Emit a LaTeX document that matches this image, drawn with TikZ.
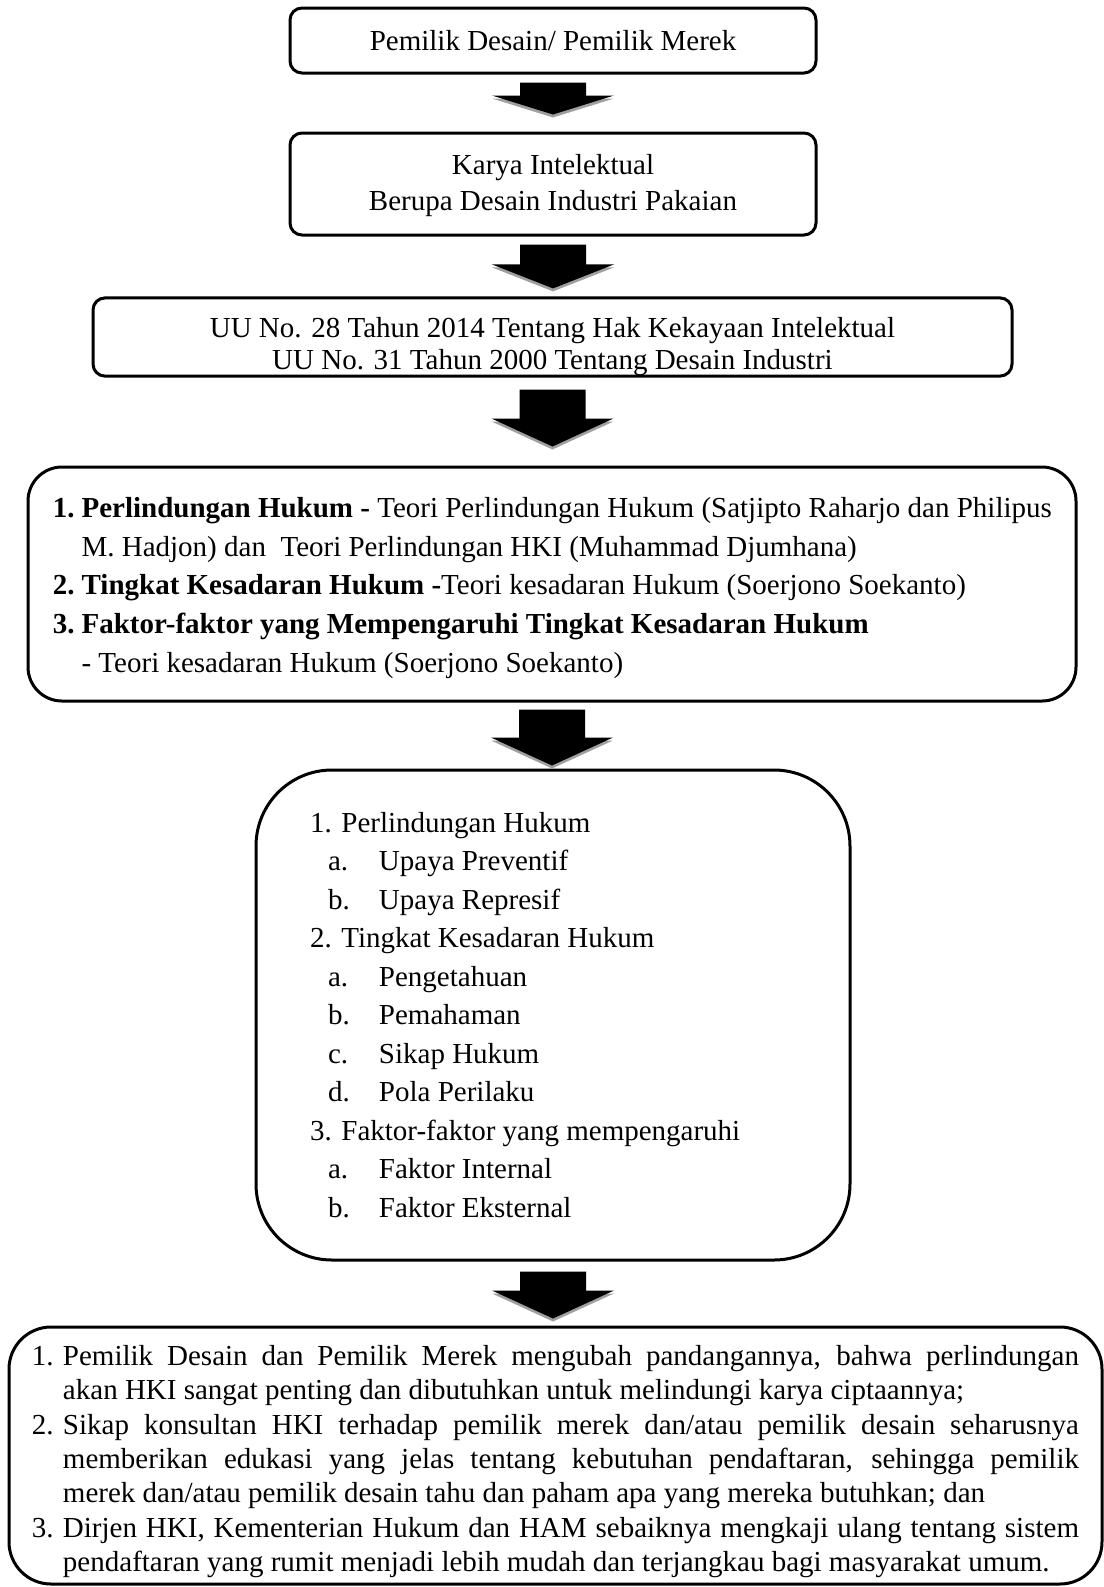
\documentclass[tikz,border=0pt]{standalone}
\usepackage{fontspec}
\setmainfont{Liberation Serif}
\usetikzlibrary{calc}
\definecolor{arrowshadow}{HTML}{A0A0A0}
\tikzset{
  box/.style={draw, line width=1.5pt, align=center, inner sep=0pt, font=\fontsize{14.5}{17}\selectfont},
  listbox/.style={draw, line width=1.5pt, inner sep=0pt},
}
\newcommand\blockarrow[5]{%
 \fill[arrowshadow] let \p1=($(#1.south)+(0,#3)$), \p2=($(#2.north)+(0,-#4)$) in
   ({\x1-30.5pt},{\y2+#5*0.5pt-1.5pt}) -- ({\x1+30.5pt},{\y2+#5*0.5pt-1.5pt}) -- ({\x1},{\y2-1.5pt}) -- cycle;
 \fill[black] let \p1=($(#1.south)+(0,#3)$), \p2=($(#2.north)+(0,-#4)$) in
   ({\x1-16.5pt},{\y1}) -- ({\x1+16.5pt},{\y1}) -- ({\x1+16.5pt},{\y2+#5*0.5pt}) -- ({\x1+30.5pt},{\y2+#5*0.5pt}) -- ({\x1},{\y2}) -- ({\x1-30.5pt},{\y2+#5*0.5pt}) -- ({\x1-16.5pt},{\y2+#5*0.5pt}) -- cycle;
}
\newcommand\lline[1]{\mbox{#1}\\}
\begin{document}
\begin{tikzpicture}[x=0.5pt,y=-0.5pt]
\fill[white] (0,0) rectangle (1104,1587);
\useasboundingbox (0,0) rectangle (1104,1587);

\node[box, rounded corners=6pt, minimum width=263pt, minimum height=32.5pt] (b1) at (553,40.5) {Pemilik Desain/ Pemilik Merek};
\node[listbox, rounded corners=6pt, minimum width=263pt, minimum height=51pt] (b2) at (553,184) {\parbox{250pt}{\fontsize{14.5}{17.6}\selectfont\centering
\vspace*{1.5pt}Karya Intelektual\\Berupa Desain Industri Pakaian\par}};
\node[listbox, rounded corners=6pt, minimum width=459.5pt, minimum height=39pt] (b3) at (552.5,337) {\parbox{450pt}{\fontsize{14.5}{16.3}\selectfont\centering
\vspace*{9.6pt}UU No. 28 Tahun 2014 Tentang Hak Kekayaan Intelektual\\UU No. 31 Tahun 2000 Tentang Desain Industri\par}};

\node[listbox, rounded corners=17pt, minimum width=524pt, minimum height=117pt] (b4) at (552,584) {\parbox{499pt}{\fontsize{14.5}{19.3}\selectfont\raggedright
\vspace*{4pt}%
\lline{\makebox[14.3pt][l]{\textbf{1.}}\textbf{Perlindungan Hukum -} Teori Perlindungan Hukum (Satjipto Raharjo dan Philipus}
\lline{\hspace*{14.3pt}M. Hadjon) dan\ \ Teori Perlindungan HKI (Muhammad Djumhana)}
\lline{\makebox[14.3pt][l]{\textbf{2.}}\textbf{Tingkat Kesadaran Hukum -}Teori kesadaran Hukum (Soerjono Soekanto)}
\lline{\makebox[14.3pt][l]{\textbf{3.}}\textbf{Faktor-faktor yang Mempengaruhi Tingkat Kesadaran Hukum}}
\mbox{\hspace*{14.3pt}- Teori kesadaran Hukum (Soerjono Soekanto)}}};

\node[listbox, rounded corners=38pt, minimum width=297pt, minimum height=245pt] (b5) at (553,1015) {\parbox{240pt}{\fontsize{14.5}{19.25}\selectfont\raggedright
\lline{\hspace*{-1.5pt}1. Perlindungan Hukum}
\lline{\hspace*{7.5pt}\makebox[25.5pt][l]{a.}Upaya Preventif}
\lline{\hspace*{7.5pt}\makebox[25.5pt][l]{b.}Upaya Represif}
\lline{\hspace*{-1.5pt}2. Tingkat Kesadaran Hukum}
\lline{\hspace*{7.5pt}\makebox[25.5pt][l]{a.}Pengetahuan}
\lline{\hspace*{7.5pt}\makebox[25.5pt][l]{b.}Pemahaman}
\lline{\hspace*{7.5pt}\makebox[25.5pt][l]{c.}Sikap Hukum}
\lline{\hspace*{7.5pt}\makebox[25.5pt][l]{d.}Pola Perilaku}
\lline{\hspace*{-1.5pt}3. Faktor-faktor yang mempengaruhi}
\lline{\hspace*{7.5pt}\makebox[25.5pt][l]{a.}Faktor Internal}
\mbox{\hspace*{7.5pt}\makebox[25.5pt][l]{b.}Faktor Eksternal}}};

\node[listbox, rounded corners=21pt, minimum width=546.5pt, minimum height=128.5pt] (b6) at (555.5,1455.5) {\parbox{523.5pt}{\fontsize{14.5}{17.2}\selectfont\tolerance=10000\hbadness=10000\parindent=0pt
\vspace*{6pt}%
\hangindent=15.5pt\hangafter=1\makebox[15.5pt][l]{1.}Pemilik Desain dan Pemilik Merek mengubah pandangannya, bahwa perlindungan\linebreak akan HKI sangat penting dan dibutuhkan untuk melindungi karya ciptaannya;\par
\hangindent=15.5pt\hangafter=1\makebox[15.5pt][l]{2.}Sikap konsultan HKI terhadap pemilik merek dan/atau pemilik desain seharusnya\linebreak memberikan edukasi yang jelas tentang kebutuhan pendaftaran, sehingga pemilik\linebreak merek dan/atau pemilik desain tahu dan paham apa yang mereka butuhkan; dan\par
\hangindent=15.5pt\hangafter=1\makebox[15.5pt][l]{3.}Dirjen HKI, Kementerian Hukum dan HAM sebaiknya mengkaji ulang tentang sistem\linebreak pendaftaran yang rumit menjadi lebih mudah dan terjangkau bagi masyarakat umum.\par}};

\blockarrow{b1}{b2}{8}{17}{19}
\blockarrow{b2}{b3}{8}{8}{24}
\blockarrow{b3}{b4}{12}{19}{28}
\blockarrow{b4}{b5}{7}{3}{28}
\blockarrow{b5}{b6}{10}{7}{28}
\end{tikzpicture}
\end{document}
